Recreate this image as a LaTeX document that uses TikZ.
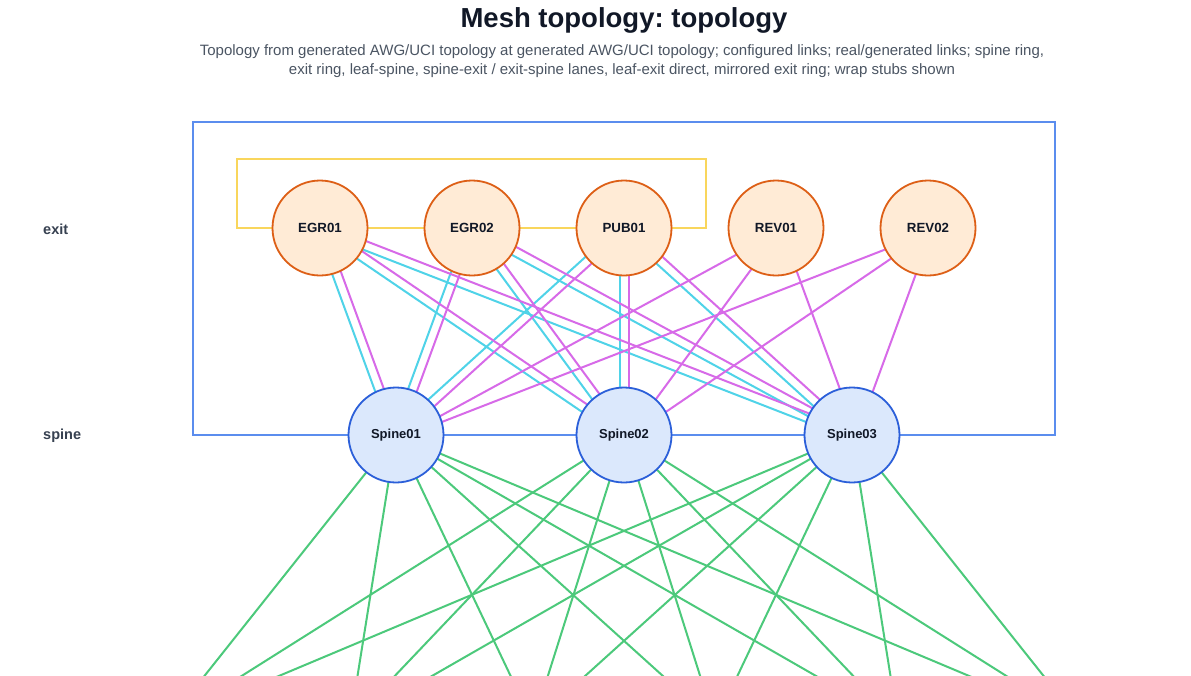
\documentclass[tikz,border=0pt]{standalone}
\usepackage{fontspec}
\setmainfont{Liberation Sans}
\usetikzlibrary{calc,backgrounds}
\frenchspacing

\definecolor{exitfill}{HTML}{FFEBD6}
\definecolor{exitdraw}{HTML}{DD5F16}
\definecolor{spinefill}{HTML}{DBE8FC}
\definecolor{spinedraw}{HTML}{2B5FD9}
\definecolor{ringblue}{HTML}{5B8DEE}
\definecolor{ringyellow}{HTML}{F9D65C}
\definecolor{lanecyan}{HTML}{4FD3E8}
\definecolor{lanemag}{HTML}{D76AE8}
\definecolor{leafgreen}{HTML}{4CC97B}
\definecolor{titlecol}{HTML}{111827}
\definecolor{subcol}{HTML}{4B5563}
\definecolor{tiercol}{HTML}{374151}

\begin{document}
\begin{tikzpicture}[x=1pt, y=-1pt,
  exitnode/.style={circle, draw=exitdraw, fill=exitfill, line width=1.8pt, minimum size=95pt, inner sep=0pt, text=titlecol, font=\bfseries\fontsize{13.3}{15}\selectfont},
  spinenode/.style={circle, draw=spinedraw, fill=spinefill, line width=1.8pt, minimum size=95pt, inner sep=0pt, text=titlecol, font=\bfseries\fontsize{13}{15}\selectfont},
  tier/.style={anchor=west, inner sep=0pt, text=tiercol, font=\bfseries\fontsize{14.5}{16}\selectfont},
  spinering/.style={draw=ringblue, line width=2.4pt},
  exitring/.style={draw=ringyellow, line width=2.4pt},
  fwdlane/.style={draw=lanecyan, line width=2pt},
  revlane/.style={draw=lanemag, line width=2pt},
  leafspine/.style={draw=leafgreen, line width=2pt}]
\useasboundingbox (0,0) rectangle (1191,675);

\node[text=titlecol, font=\bfseries\fontsize{27.5}{32}\selectfont] (title) at (624,20) {Mesh topology: topology};
\node[text=subcol, align=center, font=\fontsize{15}{19}\selectfont] (sub) at (622,61) {Topology from generated AWG/UCI topology at generated AWG/UCI topology; configured links; real/generated links; spine ring,\\exit ring, leaf-spine, spine-exit / exit-spine lanes, leaf-exit direct, mirrored exit ring; wrap stubs shown};

\node[tier] (exitlbl) at (43,229) {exit};
\node[tier] (spinelbl) at (43,436) {spine};

\node[exitnode] (egr1) at (320,228) {EGR01};
\node[exitnode] (egr2) at (472,228) {EGR02};
\node[exitnode] (pub1) at (624,228) {PUB01};
\node[exitnode] (rev1) at (776,228) {REV01};
\node[exitnode] (rev2) at (928,228) {REV02};

\node[spinenode] (sp1) at (396,435) {Spine01};
\node[spinenode] (sp2) at (624,435) {Spine02};
\node[spinenode] (sp3) at (852,435) {Spine03};

\coordinate (ringL) at (193,122);
\coordinate (ringR) at (1055,122);
\coordinate (exitL) at (237,159);
\coordinate (exitR) at (706,159);
\foreach \i/\x in {1/167,2/350,3/533,4/715,5/898,6/1081}
  \coordinate (leaf\i) at (\x,723);

\begin{pgfonlayer}{background}
\fill[white] (0,0) rectangle (1191,675);
\foreach \s in {sp1,sp2,sp3}
  \foreach \i in {1,...,6}
    \draw[leafspine] (\s.center) -- (leaf\i);
\draw[spinering] (sp1.center) -- (sp2.center) -- (sp3.center) -| (ringR) -- (ringL) |- (sp1.center);
\draw[exitring] (egr1.center) -- (egr2.center) -- (pub1.center) -| (exitR) -- (exitL) |- (egr1.center);
\foreach \e in {egr1,egr2,pub1}
  \foreach \s in {sp1,sp2,sp3}
    \draw[fwdlane] ($(\e)!4.5pt!-90:(\s)$) -- ($(\s)!4.5pt!90:(\e)$);
\foreach \e in {egr1,egr2,pub1,rev1,rev2}
  \foreach \s in {sp1,sp2,sp3}
    \draw[revlane] ($(\e)!4.5pt!90:(\s)$) -- ($(\s)!4.5pt!-90:(\e)$);
\end{pgfonlayer}
\end{tikzpicture}
\end{document}
